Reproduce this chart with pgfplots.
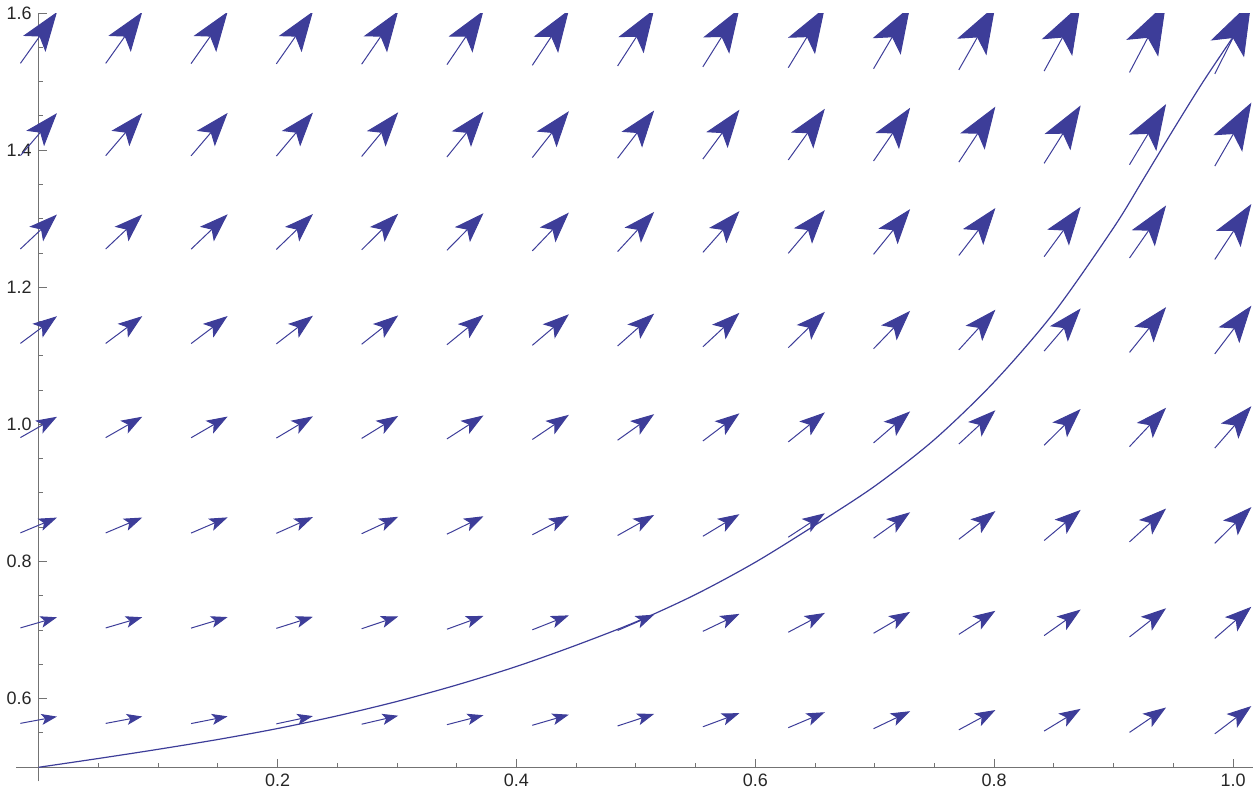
\documentclass[border=0pt]{standalone}
\usepackage{pgfplots}
\pgfplotsset{compat=1.18}
\usepackage{pgfplotstable}
\usepackage{fontspec}
\setmainfont{Liberation Sans}
\usetikzlibrary{arrows.meta}
\definecolor{vcol}{RGB}{61,61,153}
\definecolor{axcol}{gray}{0.45}

% vector field: grid point (x,y) and slope f of the arrow (dy/dx)
\pgfplotstableread{
x y f
0 0.569 0.3238
0.0714 0.569 0.3289
0.1429 0.569 0.3442
0.2143 0.569 0.3697
0.2857 0.569 0.4054
0.3571 0.569 0.4514
0.4286 0.569 0.5075
0.5 0.569 0.5738
0.5714 0.569 0.6503
0.6429 0.569 0.7371
0.7143 0.569 0.8340
0.7857 0.569 0.9411
0.8571 0.569 1.0585
0.9286 0.569 1.1860
1 0.569 1.3238
0 0.711 0.5055
0.0714 0.711 0.5106
0.1429 0.711 0.5259
0.2143 0.711 0.5514
0.2857 0.711 0.5871
0.3571 0.711 0.6331
0.4286 0.711 0.6892
0.5 0.711 0.7555
0.5714 0.711 0.8320
0.6429 0.711 0.9188
0.7143 0.711 1.0157
0.7857 0.711 1.1228
0.8571 0.711 1.2402
0.9286 0.711 1.3677
1 0.711 1.5055
0 0.853 0.7276
0.0714 0.853 0.7327
0.1429 0.853 0.7480
0.2143 0.853 0.7735
0.2857 0.853 0.8092
0.3571 0.853 0.8552
0.4286 0.853 0.9113
0.5 0.853 0.9776
0.5714 0.853 1.0541
0.6429 0.853 1.1409
0.7143 0.853 1.2378
0.7857 0.853 1.3449
0.8571 0.853 1.4623
0.9286 0.853 1.5898
1 0.853 1.7276
0 0.996 0.9920
0.0714 0.996 0.9971
0.1429 0.996 1.0124
0.2143 0.996 1.0379
0.2857 0.996 1.0736
0.3571 0.996 1.1196
0.4286 0.996 1.1757
0.5 0.996 1.2420
0.5714 0.996 1.3185
0.6429 0.996 1.4053
0.7143 0.996 1.5022
0.7857 0.996 1.6093
0.8571 0.996 1.7267
0.9286 0.996 1.8542
1 0.996 1.9920
0 1.138 1.2950
0.0714 1.138 1.3001
0.1429 1.138 1.3154
0.2143 1.138 1.3409
0.2857 1.138 1.3766
0.3571 1.138 1.4226
0.4286 1.138 1.4787
0.5 1.138 1.5450
0.5714 1.138 1.6215
0.6429 1.138 1.7083
0.7143 1.138 1.8052
0.7857 1.138 1.9123
0.8571 1.138 2.0297
0.9286 1.138 2.1572
1 1.138 2.2950
0 1.281 1.6410
0.0714 1.281 1.6461
0.1429 1.281 1.6614
0.2143 1.281 1.6869
0.2857 1.281 1.7226
0.3571 1.281 1.7686
0.4286 1.281 1.8247
0.5 1.281 1.8910
0.5714 1.281 1.9675
0.6429 1.281 2.0543
0.7143 1.281 2.1512
0.7857 1.281 2.2583
0.8571 1.281 2.3757
0.9286 1.281 2.5032
1 1.281 2.6410
0 1.423 2.0249
0.0714 1.423 2.0300
0.1429 1.423 2.0453
0.2143 1.423 2.0708
0.2857 1.423 2.1065
0.3571 1.423 2.1525
0.4286 1.423 2.2086
0.5 1.423 2.2749
0.5714 1.423 2.3514
0.6429 1.423 2.4382
0.7143 1.423 2.5351
0.7857 1.423 2.6422
0.8571 1.423 2.7596
0.9286 1.423 2.8871
1 1.423 3.0249
0 1.564 2.4461
0.0714 1.564 2.4512
0.1429 1.564 2.4665
0.2143 1.564 2.4920
0.2857 1.564 2.5277
0.3571 1.564 2.5737
0.4286 1.564 2.6298
0.5 1.564 2.6961
0.5714 1.564 2.7726
0.6429 1.564 2.8594
0.7143 1.564 2.9563
0.7857 1.564 3.0634
0.8571 1.564 3.1808
0.9286 1.564 3.3083
1 1.564 3.4461
}\field

% solution curve
\pgfplotstableread{
x y
0 0.5
0.05 0.5128
0.1 0.5262
0.15 0.5405
0.2 0.5565
0.25 0.575
0.3 0.596
0.35 0.620
0.4 0.647
0.45 0.678
0.5 0.712
0.55 0.752
0.6 0.799
0.65 0.853
0.7 0.910
0.75 0.978
0.8 1.062
0.85 1.163
0.9 1.287
0.925 1.358
0.95 1.43
0.975 1.50
1.0 1.565
}\curve

\begin{document}
\begin{tikzpicture}
\begin{axis}[name=ax,
  scale only axis, width=619pt, height=384.5pt,
  xmin=-0.0188, xmax=1.0167, ymin=0.4796, ymax=1.6,
  axis x line=bottom, axis y line=left,
  axis x line shift=-7pt, axis y line shift=-11.25pt,
  axis line style={-, draw=axcol, line width=0.6pt},
  tick align=inside,
  major tick length=4pt, minor tick length=2pt,
  tick style={draw=axcol, line width=0.5pt},
  xtick={0.2,0.4,0.6,0.8,1.0},
  minor xtick={0.05,0.1,0.15,0.25,0.3,0.35,0.45,0.5,0.55,0.65,0.7,0.75,0.85,0.9,0.95},
  ytick={0.6,0.8,1.0,1.2,1.4,1.6},
  minor ytick={0.55,0.65,0.7,0.75,0.85,0.9,0.95,1.05,1.1,1.15,1.25,1.3,1.35,1.45,1.5,1.55},
  ticklabel style={font=\fontsize{9}{10}\selectfont, text=black!85},
  /pgf/number format/.cd, fixed, fixed zerofill, precision=1, assume math mode=true,
]
\addplot[draw=vcol, line width=0.5pt,
  point meta={sqrt(1+\thisrow{f}^2)},
  point meta min=0, point meta max=10,
  quiver={u=0.0306, v=0.0306*\thisrow{f},
    every arrow/.append style={
      /utils/exec={%
        \pgfmathsetmacro\hl{\pgfplotspointmetatransformed*0.074}%
        \pgfmathsetmacro\hw{\pgfplotspointmetatransformed*0.052}%
        \pgfmathsetmacro\hi{\pgfplotspointmetatransformed*0.017}},
      -{Stealth[length=\hl pt, width=\hw pt, inset=\hi pt]}}},
  ] table[x expr=\thisrow{x}-0.0153, y expr=\thisrow{y}-0.0153*\thisrow{f}] {\field};
\addplot[draw=vcol, line width=0.6pt, smooth, no marks] table[x=x, y=y] {\curve};
\end{axis}
\path (ax.south west) ++(-7.5pt,-5.5pt);
\path (ax.north east) ++(3.5pt,5.5pt);
\end{tikzpicture}
\end{document}
